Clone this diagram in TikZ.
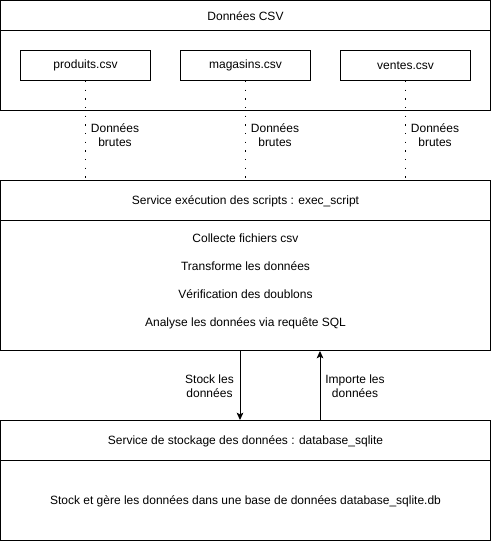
\documentclass[tikz,border=0pt]{standalone}
\usepackage{fontspec}
\setmainfont{Liberation Sans}
\usetikzlibrary{arrows.meta}
\begin{document}
\begin{tikzpicture}[x=0.75pt,y=-0.75pt,
  every node/.style={font=\fontsize{9pt}{10.8pt}\selectfont, inner sep=0pt},
  box/.style={draw, line width=0.75pt, rectangle},
  sep/.style={line width=0.75pt},
  dotline/.style={line width=1.1pt, dash pattern=on 0.9pt off 5.6pt, line cap=butt},
  arr/.style={line width=0.75pt, -{Stealth[length=5.5pt,width=5pt,inset=1.3pt]}},
  lbl/.style={align=center}]
\useasboundingbox (0,0) rectangle (491,541);
% top container
\node[box, minimum width=367.5pt, minimum height=82.5pt] (csv) at (245.5,55.5) {};
\coordinate (csvh) at (0,30.5);
\draw[sep] (csv.west |- csvh) -- (csv.east |- csvh);
\node (csvt) at (245.5,16) {Données CSV};
\node[box, minimum width=97.5pt, minimum height=22.5pt] (prod) at (85.5,65.5) {produits.csv};
\node[box, minimum width=97.5pt, minimum height=22.5pt] (mag) at (245.5,65.5) {magasins.csv};
\node[box, minimum width=97.5pt, minimum height=22.5pt] (ven) at (405.5,65.5) {ventes.csv};
% service
\node[box, minimum width=367.5pt, minimum height=127.5pt] (svc) at (245.5,265.5) {};
\coordinate (svch) at (0,220.5);
\draw[sep] (svc.west |- svch) -- (svc.east |- svch);
\node (svct) at (245.5,201) {Service exécution des scripts : exec\_script};
\node (s1) at (245.5,238) {Collecte fichiers csv};
\node (s2) at (245.5,266) {Transforme les données};
\node (s3) at (245.5,294) {Vérification des doublons};
\node (s4) at (245.5,323) {Analyse les données via requête SQL};
% database
\node[box, minimum width=367.5pt, minimum height=90pt] (db) at (245.5,480.5) {};
\coordinate (dbh) at (0,460.5);
\draw[sep] (db.west |- dbh) -- (db.east |- dbh);
\node (dbt) at (245.5,441) {Service de stockage des données : database\_sqlite};
\node (db1) at (245.5,501) {Stock et gère les données dans une base de données database\_sqlite.db};
% dotted connectors
\draw[dotline] (prod.south) -- (prod.south |- svc.north);
\draw[dotline] (mag.south) -- (mag.south |- svc.north);
\draw[dotline] (ven.south) -- (ven.south |- svc.north);
\node[lbl] (l1) at (115,135) {Données\\brutes};
\node[lbl] (l2) at (275,135) {Données\\brutes};
\node[lbl] (l3) at (435,135) {Données\\brutes};
% arrows
\coordinate (xa) at (240,0);
\coordinate (xb) at (320,0);
\draw[arr] (svc.south -| xa) -- (db.north -| xa);
\draw[arr] (db.north -| xb) -- (svc.south -| xb);
\node[lbl] (la) at (209.5,386) {Stock les\\données};
\node[lbl] (lb) at (355,386) {Importe les\\données};
\end{tikzpicture}
\end{document}
